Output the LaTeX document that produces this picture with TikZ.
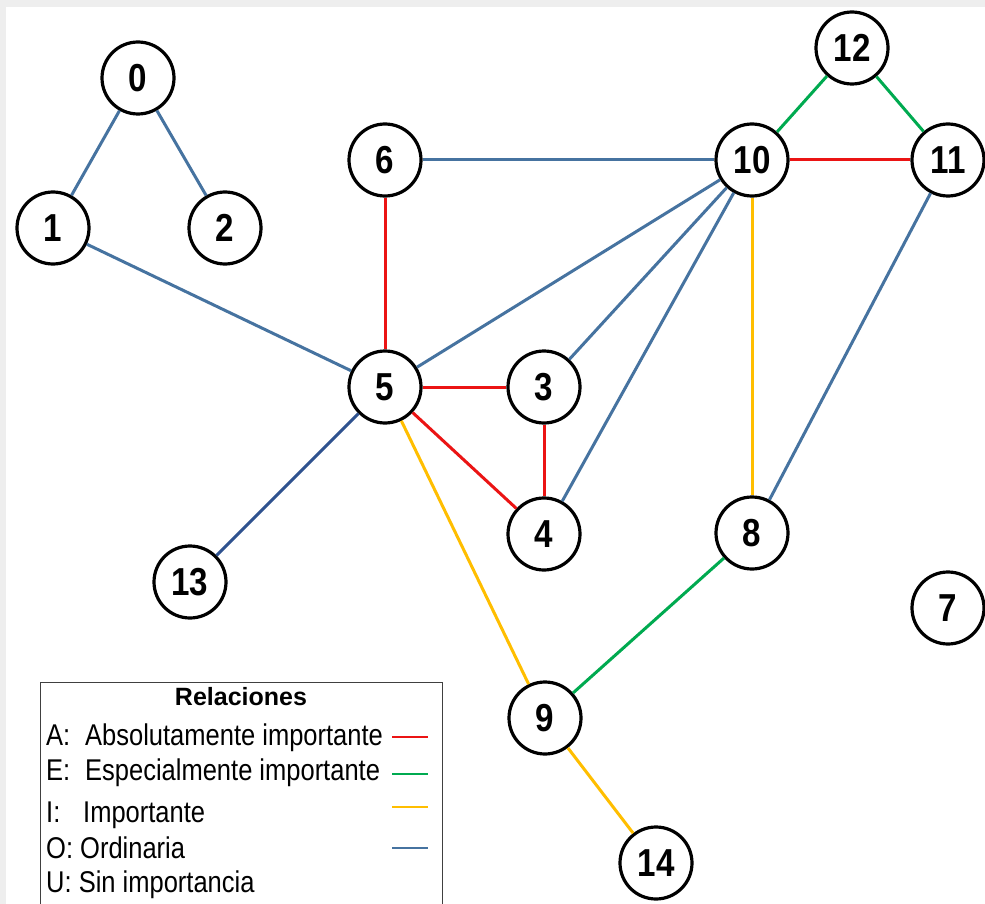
\documentclass[tikz,border=0pt]{standalone}
\usepackage{fontspec}
\setmainfont{Liberation Sans}
\newfontfamily\numfont[FakeStretch=0.85]{Liberation Sans}
\newfontfamily\lgfont[FakeStretch=0.85]{Liberation Sans}
\definecolor{eA}{RGB}{235,20,20}
\definecolor{eE}{RGB}{0,170,80}
\definecolor{eI}{RGB}{255,190,0}
\definecolor{eO}{RGB}{70,115,160}
\definecolor{eOd}{RGB}{47,82,143}
\definecolor{strip}{RGB}{238,238,238}
\begin{document}
\begin{tikzpicture}[x=1pt,y=-1pt,
  vtx/.style={circle,draw=black,line width=3.2pt,fill=white,minimum size=72pt,inner sep=0pt,
    font=\numfont\bfseries\fontsize{39}{39}\selectfont},
  rel/.style={line width=3pt},
  relA/.style={rel,draw=eA},
  relE/.style={rel,draw=eE},
  relI/.style={rel,draw=eI},
  relO/.style={rel,draw=eO},
  relOd/.style={rel,draw=eOd},
  lgtext/.style={anchor=base west,inner sep=0pt,font=\lgfont\fontsize{30}{30}\selectfont},
  lgline/.style={line width=2.2pt}]
\useasboundingbox (0,0) rectangle (985,904);
\fill[strip] (0,0) rectangle (985,904);
\fill[white] (6,7) rectangle (985,904);

% nodes
\node[vtx] (n0) at (138,78) {0};
\node[vtx] (n1) at (53,228) {1};
\node[vtx] (n2) at (225,228) {2};
\node[vtx] (n6) at (385,160) {6};
\node[vtx] (n10) at (752,160) {10};
\node[vtx] (n11) at (948,160) {11};
\node[vtx] (n12) at (852,48) {12};
\node[vtx] (n5) at (385,387) {5};
\node[vtx] (n3) at (544,387) {3};
\node[vtx] (n4) at (544,534) {4};
\node[vtx] (n8) at (752,533) {8};
\node[vtx] (n13) at (190,582) {13};
\node[vtx] (n7) at (948,608) {7};
\node[vtx] (n9) at (545,718) {9};
\node[vtx] (n14) at (656,863) {14};

% edges
\draw[relO] (n0) -- (n1);
\draw[relO] (n0) -- (n2);
\draw[relO] (n1) -- (n5);
\draw[relO] (n6) -- (n10);
\draw[relA] (n6) -- (n5);
\draw[relE] (n10) -- (n12);
\draw[relE] (n12) -- (n11);
\draw[relA] (n10) -- (n11);
\draw[relO] (n10) -- (n5);
\draw[relO] (n10) -- (n3);
\draw[relO] (n10) -- (n4);
\draw[relI] (n10) -- (n8);
\draw[relO] (n11) -- (n8);
\draw[relA] (n5) -- (n3);
\draw[relA] (n5) -- (n4);
\draw[relA] (n3) -- (n4);
\draw[relOd] (n5) -- (n13);
\draw[relI] (n5) -- (n9);
\draw[relE] (n8) -- (n9);
\draw[relI] (n9) -- (n14);

% legend
\node[draw={rgb,255:red,64;green,64;blue,64},line width=1.3pt,minimum width=402pt,minimum height=222pt,
  anchor=north west,inner sep=0pt] (legend) at (40,682) {};
\node[anchor=base,inner sep=0pt,font=\bfseries\fontsize{25}{25}\selectfont] (ttl) at (241,705) {Relaciones};
\node[lgtext] (kA) at (46,745) {A:};
\node[lgtext] (tA) at (85,745) {Absolutamente importante};
\node[lgtext] (kE) at (46,780) {E:};
\node[lgtext] (tE) at (85,780) {Especialmente importante};
\node[lgtext] (kI) at (46,822) {I:};
\node[lgtext] (tI) at (83,822) {Importante};
\node[lgtext] (tO) at (46,858) {O: Ordinaria};
\node[lgtext] (tU) at (46,892) {U: Sin importancia};
\coordinate (sA1) at (392,737); \coordinate (sA2) at (428,737);
\coordinate (sE1) at (392,774); \coordinate (sE2) at (428,774);
\coordinate (sI1) at (392,807); \coordinate (sI2) at (428,807);
\coordinate (sO1) at (392,848); \coordinate (sO2) at (428,848);
\draw[lgline,draw=eA] (sA1) -- (sA2);
\draw[lgline,draw=eE] (sE1) -- (sE2);
\draw[lgline,draw=eI] (sI1) -- (sI2);
\draw[lgline,draw=eO] (sO1) -- (sO2);
\end{tikzpicture}
\end{document}
